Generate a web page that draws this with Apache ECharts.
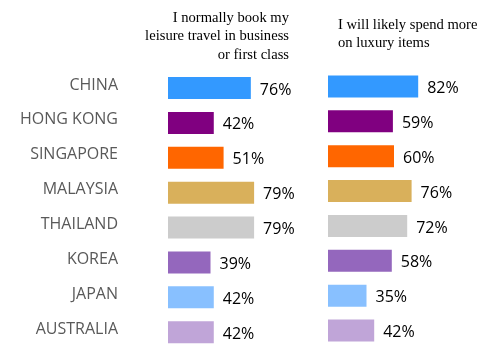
<!DOCTYPE html>
<html>
<head>
<meta charset="utf-8">
<script src="https://cdn.jsdelivr.net/npm/echarts@6/dist/echarts.min.js"></script>
<style>html,body{margin:0;padding:0;background:#fff}#c{width:501px;height:351px}</style>
</head>
<body>
<div id="c"></div>
<script>
var categories = ['CHINA', 'HONG KONG', 'SINGAPORE', 'MALAYSIA', 'THAILAND', 'KOREA', 'JAPAN', 'AUSTRALIA'];
var colors = ['#3399FF', '#800080', '#FF6600', '#D9B05B', '#CCCCCC', '#9467BD', '#88C0FF', '#C0A5D8'];
var businessClass = [76, 42, 51, 79, 79, 39, 42, 42];
var luxuryItems = [82, 59, 60, 76, 72, 58, 35, 42];
var titleLeft = 'I normally book my\nleisure travel in business\nor first class';
var titleRight = 'I will likely spend more\non luxury items';

function colored(values) {
  return values.map(function (v, i) {
    return { value: v, itemStyle: { color: colors[i] } };
  });
}

var chart = echarts.init(document.getElementById('c'));
var labelStyle = {
  show: true, position: 'right', distance: 9, offset: [0, 2],
  formatter: '{c}%', color: '#000', fontSize: 16, fontFamily: 'Open Sans'
};
chart.setOption({
  animation: false,
  graphic: [
    { type: 'text', x: 289, y: 8.5, style: { text: titleLeft, align: 'right', verticalAlign: 'top', lineHeight: 18.5, fontSize: 14.6, fontFamily: 'Liberation Serif', fill: '#000' } },
    { type: 'text', x: 338, y: 15.5, style: { text: titleRight, align: 'left', verticalAlign: 'top', lineHeight: 18.5, fontSize: 14.6, fontFamily: 'Liberation Serif', fill: '#000' } }
  ],
  grid: [
    { left: 168, top: 70.6, width: 109, height: 279 },
    { left: 328, top: 69, width: 110, height: 279 },
    { left: 168, top: 67.6, width: 109, height: 279 }
  ],
  xAxis: [
    { gridIndex: 0, type: 'value', min: 0, max: 100, show: false },
    { gridIndex: 1, type: 'value', min: 0, max: 100, show: false },
    { gridIndex: 2, type: 'value', min: 0, max: 100, show: false }
  ],
  yAxis: [
    { gridIndex: 0, type: 'category', data: categories, inverse: true, show: false },
    { gridIndex: 1, type: 'category', data: categories, inverse: true, show: false },
    { gridIndex: 2, type: 'category', data: categories, inverse: true,
      axisLine: { show: false }, axisTick: { show: false },
      axisLabel: { margin: 50, color: '#595959', fontSize: 16, fontFamily: 'Open Sans' } }
  ],
  series: [
    { type: 'bar', xAxisIndex: 0, yAxisIndex: 0, data: colored(businessClass), barWidth: 22, label: labelStyle },
    { type: 'bar', xAxisIndex: 1, yAxisIndex: 1, data: colored(luxuryItems), barWidth: 22, label: labelStyle }
  ]
});
</script>
</body>
</html>
